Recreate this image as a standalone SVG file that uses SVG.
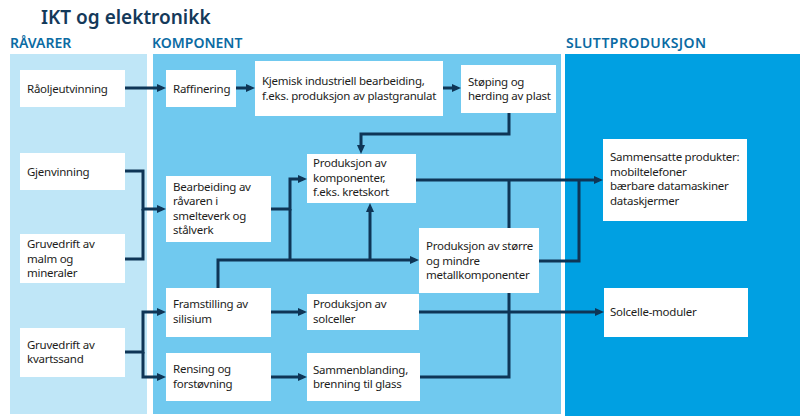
<svg xmlns="http://www.w3.org/2000/svg" width="800" height="416" viewBox="0 0 800 416">
<defs>
<marker id="ah" viewBox="0 0 9 8" refX="5" refY="4" markerWidth="9" markerHeight="8" markerUnits="userSpaceOnUse" orient="auto">
<path d="M0,0 L9,4 L0,8 z" fill="#0e3556"/>
</marker>
<style>
.title{font-family:"Noto Sans","Open Sans",sans-serif;font-size:19px;font-weight:600;fill:#14395a}
.hdr{font-family:"Noto Sans","Open Sans",sans-serif;font-size:14px;font-weight:600;fill:#0b6ba3}
.box{fill:#ffffff}
.t{font-family:"Noto Sans","Open Sans",sans-serif;font-size:11.5px;letter-spacing:-0.25px;fill:#1d1d1b}
.c{fill:none;stroke:#0e3556;stroke-width:3}
.a{marker-end:url(#ah)}
</style>
</defs>
<rect x="0" y="0" width="800" height="416" fill="#ffffff"/>
<text class="title" x="41" y="24">IKT og elektronikk</text>
<text class="hdr" x="10" y="48">RÅVARER</text>
<text class="hdr" x="152" y="48">KOMPONENT</text>
<text class="hdr" x="566" y="48" style="letter-spacing:0.4px">SLUTTPRODUKSJON</text>
<rect x="10" y="54" width="137" height="360" fill="#bfe6f7"/>
<rect x="153" y="54" width="408" height="360" fill="#70c9ef"/>
<rect x="565" y="54" width="235" height="362" fill="#00a0e2"/>

<g id="connectors">
<path class="c a" d="M125,88 H162"/>
<path class="c a" d="M236,88 H251"/>
<path class="c a" d="M443,88 H457"/>
<path class="c a" d="M509,113 V134 H361 V150"/>
<path class="c a" d="M125,171 H143 V209 H162"/>
<path class="c" d="M125,259 H143 V209"/>
<path class="c a" d="M271,209 H290 V179 H303"/>
<path class="c" d="M290,209 V260"/>
<path class="c a" d="M218,288 V260 H415"/>
<path class="c a" d="M370,260 V207"/>
<path class="c a" d="M416,180 H599"/>
<path class="c" d="M539,261 H579 V180"/>
<path class="c" d="M420,377 H509 V180"/>
<path class="c a" d="M419,312 H600"/>
<path class="c a" d="M125,352 H143 V312 H162"/>
<path class="c a" d="M143,352 V377 H162"/>
<path class="c a" d="M271,312 H303"/>
<path class="c a" d="M271,377 H303"/>
</g>

<g id="raoljeutvinning"><rect class="box" x="20" y="70" width="105" height="37"/><text class="t" x="27" y="93">Råoljeutvinning</text></g>
<g id="gjenvinning"><rect class="box" x="20" y="153" width="105" height="37"/><text class="t" x="27" y="176">Gjenvinning</text></g>
<g id="gruvedrift-malm"><rect class="box" x="20" y="234" width="105" height="49"/><text class="t" x="27" y="248">Gruvedrift av</text><text class="t" x="27" y="263">malm og</text><text class="t" x="27" y="277">mineraler</text></g>
<g id="gruvedrift-kvartssand"><rect class="box" x="20" y="328" width="105" height="49"/><text class="t" x="27" y="349">Gruvedrift av</text><text class="t" x="27" y="363">kvartssand</text></g>

<g id="raffinering"><rect class="box" x="166" y="70" width="70" height="37"/><text class="t" x="173" y="93">Raffinering</text></g>
<g id="kjemisk"><rect class="box" x="255" y="61" width="188" height="55"/><text class="t" x="262" y="85">Kjemisk industriell bearbeiding,</text><text class="t" x="262" y="100">f.eks. produksjon av plastgranulat</text></g>
<g id="stoping"><rect class="box" x="461" y="65" width="95" height="48"/><text class="t" x="468" y="86">Støping og</text><text class="t" x="468" y="100">herding av plast</text></g>
<g id="bearbeiding"><rect class="box" x="166" y="176" width="105" height="66"/><text class="t" x="173" y="191">Bearbeiding av</text><text class="t" x="173" y="205">råvaren i</text><text class="t" x="173" y="220">smelteverk og</text><text class="t" x="173" y="234">stålverk</text></g>
<g id="framstilling"><rect class="box" x="166" y="288" width="105" height="49"/><text class="t" x="173" y="308">Framstilling av</text><text class="t" x="173" y="323">silisium</text></g>
<g id="rensing"><rect class="box" x="166" y="353" width="105" height="48"/><text class="t" x="173" y="373">Rensing og</text><text class="t" x="173" y="388">forstøvning</text></g>
<g id="prod-komponenter"><rect class="box" x="307" y="154" width="109" height="49"/><text class="t" x="313" y="167">Produksjon av</text><text class="t" x="313" y="182">komponenter,</text><text class="t" x="313" y="196">f.eks. kretskort</text></g>
<g id="prod-storre"><rect class="box" x="419" y="228" width="120" height="65"/><text class="t" x="426" y="250">Produksjon av større</text><text class="t" x="426" y="265">og mindre</text><text class="t" x="426" y="279">metallkomponenter</text></g>
<g id="prod-solceller"><rect class="box" x="307" y="294" width="112" height="36"/><text class="t" x="313" y="308">Produksjon av</text><text class="t" x="313" y="323">solceller</text></g>
<g id="sammenblanding"><rect class="box" x="307" y="353" width="113" height="48"/><text class="t" x="313" y="374">Sammenblanding,</text><text class="t" x="313" y="388">brenning til glass</text></g>

<g id="sammensatte"><rect class="box" x="603" y="139" width="144" height="82"/><text class="t" x="610" y="161">Sammensatte produkter:</text><text class="t" x="610" y="176">mobiltelefoner</text><text class="t" x="610" y="190">bærbare datamaskiner</text><text class="t" x="610" y="205">dataskjermer</text></g>
<g id="solcelle-moduler"><rect class="box" x="604" y="288" width="144" height="49"/><text class="t" x="610" y="316">Solcelle-moduler</text></g>
</svg>
